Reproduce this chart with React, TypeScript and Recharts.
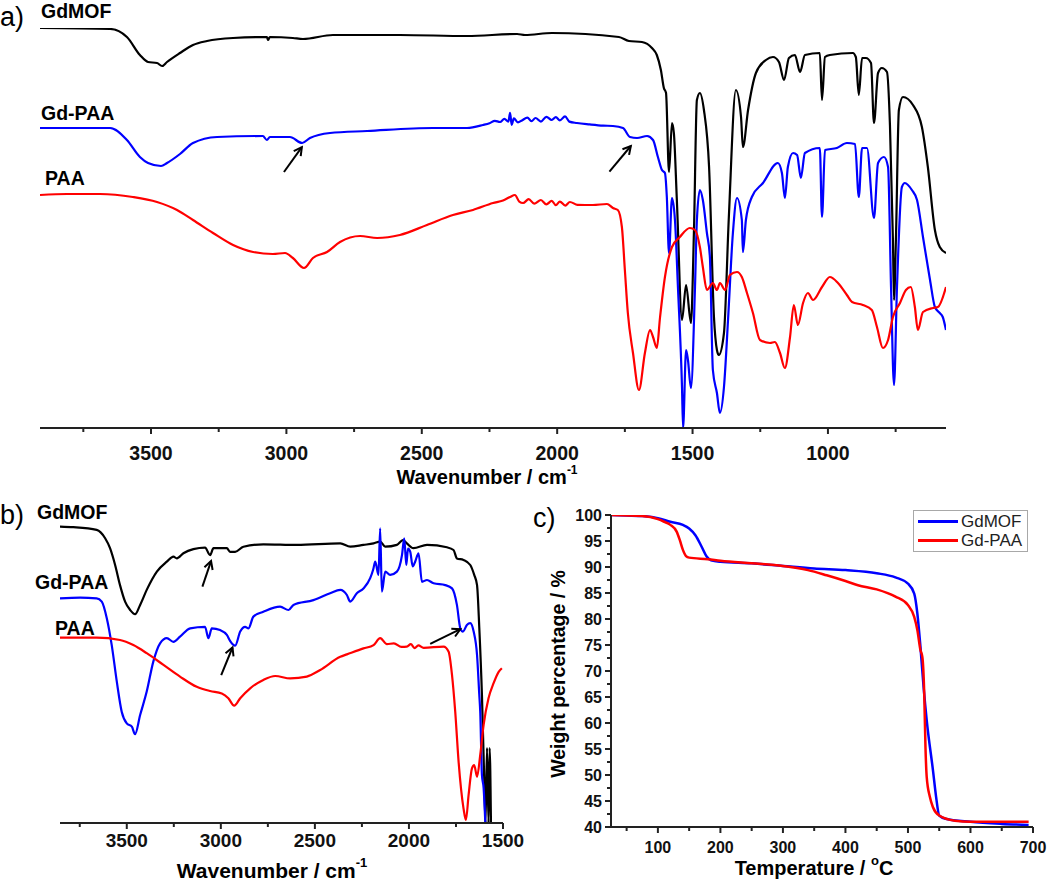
import React from "react";
import { LineChart, Line, XAxis, YAxis, ReferenceLine, Legend } from "recharts";

const FONT = '"Liberation Sans", Arial, Helvetica, sans-serif';
const AXIS = "#222";

// ---- panel a: full FTIR spectra [wavenumber cm-1, transmittance a.u.] ----
const irGdMofFull = [
  [3910, 100], [3651, 99.75], [3589, 97.75], [3541, 93.25], [3511, 91.5], [3478, 91.25], [3459, 90.5],
  [3441, 91.5], [3393, 93.75], [3345, 95.75], [3293, 96.75], [3197, 97.5], [3072, 97.75], [3068, 97],
  [3061, 97.75], [2976, 97.5], [2939, 97.25], [2828, 98.25], [2581, 98.25], [2333, 98], [2148, 98.5],
  [2119, 98.25], [2019, 98.75], [1772, 97.75], [1735, 96.75], [1687, 96.5], [1650, 95], [1632, 93.25],
  [1617, 89.5], [1606, 85], [1598, 83.75], [1587, 64], [1576, 76.25], [1569, 73.75], [1558, 57],
  [1539, 27], [1524, 35.75], [1506, 26.25], [1495, 48.75], [1484, 82], [1473, 83.75], [1458, 79.5],
  [1439, 65.25], [1421, 27.75], [1410, 19.5], [1403, 18.25], [1384, 23.75], [1366, 52.75], [1340, 84.5],
  [1321, 77.75], [1314, 70.25], [1295, 79.5], [1266, 88.75], [1229, 92], [1203, 92.75], [1181, 91.5],
  [1162, 87], [1144, 92.5], [1122, 93.25], [1103, 89], [1085, 93.25], [1030, 93.75], [1022, 82],
  [1011, 92.75], [993, 93.25], [908, 93.75], [897, 92.75], [886, 83.25], [874, 92.5], [860, 92.5],
  [841, 91.25], [830, 76.25], [815, 88.75], [801, 90], [782, 89], [771, 75.75], [760, 47], [756, 32],
  [749, 47], [738, 79.5], [723, 82.75], [686, 80.75], [653, 75.25], [631, 65.25], [605, 49.5],
  [587, 45.25], [564, 43.75],
];

const irGdPaaFull = [
  [3910, 75], [3651, 75], [3589, 72], [3541, 67.75], [3511, 66.25], [3463, 65.5], [3441, 66.25],
  [3393, 68.5], [3345, 71.25], [3256, 72.75], [3087, 73], [3072, 72], [3061, 72.75], [2987, 72.75],
  [2942, 71.25], [2913, 72.5], [2839, 73.75], [2702, 74.25], [2459, 75], [2333, 75], [2274, 75.75],
  [2250, 76.2], [2230, 76.8], [2211, 76.5], [2195, 77.3], [2180, 76.6], [2174, 78.8], [2168, 75.8],
  [2160, 77.4], [2145, 76.4], [2130, 76.9], [2110, 77.6], [2095, 76.7], [2080, 77.5], [2060, 76.6],
  [2040, 77.8], [2020, 77], [2005, 77.7], [1990, 76.9], [1971, 77.9], [1955, 76.6], [1927, 76.25],
  [1880, 75.9], [1830, 75.6], [1794, 75.5], [1757, 75], [1731, 72.75], [1705, 72.5], [1668, 73],
  [1646, 72], [1628, 67.75], [1613, 64.5], [1602, 63.75], [1595, 57.75], [1587, 43.75], [1576, 57.5],
  [1565, 52], [1554, 35.25], [1539, 10.25], [1535, 0], [1524, 19.5], [1517, 17], [1506, 10],
  [1491, 35.25], [1484, 52], [1473, 59.5], [1462, 57], [1447, 48.75], [1436, 42.75], [1425, 14.5],
  [1410, 8.75], [1399, 3.75], [1384, 10.25], [1369, 27], [1351, 48.75], [1336, 57.5], [1318, 52],
  [1314, 44], [1303, 52], [1281, 57.75], [1240, 61.25], [1185, 66.25], [1170, 63.75], [1159, 57.5],
  [1148, 65.25], [1129, 68.75], [1114, 68.25], [1100, 62.5], [1085, 68.75], [1030, 70], [1022, 52.75],
  [1011, 69.5], [967, 70], [930, 71.25], [900, 71], [886, 57.75], [874, 70], [856, 70], [830, 52.5],
  [815, 66.25], [793, 67.75], [778, 65.25], [767, 35.25], [756, 10.75], [745, 35.25], [727, 60.25],
  [716, 61.25], [690, 59.5], [671, 57], [649, 47.75], [623, 37], [605, 30.25], [587, 28.75],
  [576, 27.75], [564, 24.5],
];

const irPaaFull = [
  [3910, 58.25], [3810, 58.5], [3688, 58.5], [3567, 57.75], [3478, 56.5], [3404, 54.5], [3345, 52],
  [3271, 48.75], [3197, 45.75], [3123, 44], [3050, 43.5], [3005, 43.75], [2976, 42.5], [2935, 40],
  [2902, 42.5], [2850, 44], [2802, 46.5], [2728, 48], [2665, 47.5], [2581, 48.25], [2481, 50.75],
  [2385, 53.25], [2311, 54.5], [2237, 56.25], [2200, 56.9], [2174, 57.75], [2156, 58.25], [2140, 56.6],
  [2126, 56.25], [2105, 57.2], [2085, 56.1], [2060, 57], [2040, 55.9], [2020, 56.8], [2005, 55.7],
  [1990, 56.6], [1970, 55.6], [1953, 56.5], [1925, 55.8], [1868, 55.75], [1816, 56], [1794, 55],
  [1776, 54.5], [1761, 50.25], [1750, 39.5], [1739, 28.75], [1720, 18.75], [1698, 9.5], [1676, 18.75],
  [1657, 24.5], [1646, 22.75], [1632, 20], [1620, 27.75], [1602, 37.75], [1576, 45.25], [1547, 47.75],
  [1510, 50], [1491, 49.5], [1473, 45.25], [1462, 40.25], [1447, 34.5], [1425, 36.25], [1410, 34.5],
  [1399, 36.25], [1380, 34.5], [1362, 38.25], [1336, 39], [1318, 37.75], [1299, 33.75], [1277, 28.75],
  [1251, 22], [1214, 21.25], [1196, 21.5], [1177, 18.75], [1159, 15], [1140, 22.75], [1126, 30.75],
  [1111, 25.75], [1092, 31.25], [1074, 33.75], [1055, 32], [1022, 35.25], [993, 37.75], [963, 36.25],
  [930, 33.25], [911, 31.5], [871, 30.75], [838, 29.5], [819, 25.25], [797, 20], [778, 22],
  [760, 27.75], [734, 31.25], [712, 34.5], [694, 35.25], [679, 30.25], [668, 24.5], [649, 29],
  [612, 30], [594, 30.25], [564, 35.25],
];

// ---- panel b: zoom on 3855-1500 cm-1 ----
const irGdMofZoom = [
  [3855, 98.8], [3784, 98.6], [3660, 97.7], [3615, 94.9], [3589, 91.6], [3562, 86], [3536, 79.3],
  [3509, 73.8], [3482, 71], [3456, 69.6], [3429, 72.7], [3394, 77.7], [3340, 83.8], [3287, 87.1],
  [3252, 88.8], [3234, 88.2], [3199, 89.9], [3146, 91.3], [3084, 91.8], [3057, 89.3], [3039, 91.6],
  [2968, 91.6], [2951, 90.4], [2924, 90.4], [2880, 92.1], [2774, 92.9], [2596, 92.7], [2365, 93.2],
  [2312, 92.1], [2242, 92.7], [2188, 93.2], [2153, 93.8], [2126, 92.1], [2064, 92.7], [2032, 94.3],
  [2011, 93.2], [1976, 91.6], [1904, 92.7], [1798, 91.9], [1763, 91], [1745, 88.2], [1710, 87.7],
  [1674, 86], [1653, 82.7], [1638, 79.3], [1626, 65], [1612, 42.7], [1600, 15], [1593, 0], [1585, 25],
  [1577, 0], [1571, 25], [1564, 0],
];

const irGdPaaZoom = [
  [3855, 74.9], [3748, 75.1], [3660, 74.9], [3633, 73.8], [3606, 68.2], [3580, 59.3], [3553, 47.1],
  [3527, 37.1], [3500, 33.2], [3473, 32.1], [3456, 29.6], [3429, 36], [3394, 43.8], [3359, 53.8],
  [3323, 59.9], [3287, 61.6], [3252, 60.4], [3217, 62.1], [3163, 64.9], [3084, 65.4], [3066, 61.6],
  [3048, 64.9], [3004, 64.3], [2968, 62.7], [2951, 60.7], [2924, 59.1], [2897, 63.8], [2871, 65.4],
  [2853, 64.9], [2827, 68.8], [2774, 70.4], [2685, 72.1], [2640, 71], [2614, 72.7], [2508, 74.3],
  [2419, 76.6], [2365, 77.7], [2330, 76], [2312, 73.8], [2277, 76.6], [2242, 78.2], [2206, 81.6],
  [2190, 84.5], [2179, 87.1], [2162, 82.7], [2153, 98.2], [2144, 77.1], [2126, 83.8], [2100, 82.7],
  [2064, 83.8], [2037, 89.3], [2025, 94.9], [2014, 86], [2005, 91.5], [1993, 90.4], [1980, 85.5],
  [1967, 87.1], [1949, 89.9], [1931, 80.4], [1904, 81], [1869, 79.9], [1807, 79.3], [1771, 78.2],
  [1745, 72.7], [1727, 64.9], [1713, 63.8], [1692, 66], [1674, 66.6], [1656, 63.8], [1638, 56],
  [1626, 42.7], [1621, 37.1], [1612, 16], [1603, 11.6], [1594, 0],
];

const irPaaZoom = [
  [3855, 61.8], [3660, 61.8], [3536, 61], [3465, 59.3], [3394, 56.6], [3305, 52.7], [3217, 48.8],
  [3128, 45.4], [3057, 44], [2995, 43.2], [2960, 41.6], [2929, 39.1], [2897, 41.6], [2844, 44.9],
  [2774, 47.7], [2711, 49], [2631, 48.2], [2543, 48.8], [2472, 51], [2365, 55.4], [2330, 56.2],
  [2242, 58.2], [2188, 59.3], [2153, 61.6], [2117, 59.6], [2080, 59.9], [2040, 58.7], [2011, 58.8],
  [1990, 59.6], [1970, 58.3], [1950, 59.2], [1922, 58.4], [1816, 58.8], [1789, 57.1], [1771, 49.3],
  [1754, 37.1], [1736, 20.4], [1710, 4.9], [1697, 1], [1683, 9.3], [1665, 18.2], [1653, 19.3],
  [1638, 15.4], [1621, 22.7], [1603, 32.7], [1577, 41.6], [1550, 46.6], [1523, 50.4], [1506, 51.6],
];

// ---- panel c: TGA [temperature °C, weight %] ----
const tgaGdMof = [
  [25, 100], [50, 99.9], [75, 99.8], [100, 99.4], [120, 98.7], [140, 98.1], [150, 97.4], [160, 96.1],
  [170, 93.9], [178, 92], [185, 91.3], [200, 91], [250, 90.7], [300, 90.2], [350, 89.7], [400, 89.4],
  [450, 88.8], [480, 88], [500, 86.8], [510, 84.9], [515, 81.1], [520, 74.6], [525, 66.9], [530, 60.5],
  [540, 50.9], [545, 45.8], [550, 42.2], [560, 41.6], [600, 41], [650, 40.6], [693, 40.4],
];

const tgaGdPaa = [
  [25, 100], [75, 99.8], [100, 99.2], [110, 98.7], [120, 98.1], [130, 96.8], [135, 95.2], [140, 93.3],
  [145, 92.1], [150, 91.8], [180, 91.5], [200, 91.2], [250, 90.7], [300, 90.2], [340, 89.4], [370, 88.4],
  [400, 87.3], [420, 86.5], [450, 85.7], [480, 84.3], [500, 82.7], [510, 80.4], [515, 77.9], [520, 74],
  [523, 72.7], [526, 65.7], [528, 55.4], [530, 49.6], [535, 45.8], [540, 43.8], [550, 42.2], [575, 41.2],
  [600, 41], [693, 41],
];

// tick positions
const ticksFull = [750, 1000, 1250, 1500, 1750, 2000, 2250, 2500, 2750, 3000, 3250, 3500, 3750];
const ticksZoom = [1500, 1750, 2000, 2250, 2500, 2750, 3000, 3250, 3500, 3750];
const ticksTemp = [50, 100, 150, 200, 250, 300, 350, 400, 450, 500, 550, 600, 650, 700];
const ticksWeight = [40, 42.5, 45, 47.5, 50, 52.5, 55, 57.5, 60, 62.5, 65, 67.5, 70, 72.5, 75, 77.5,
  80, 82.5, 85, 87.5, 90, 92.5, 95, 97.5, 100];

// arrows [tail, head] in data units
const arrowsFull = [
  [[3009, 64], [2943, 70.2]],
  [[1807, 64.1], [1728, 70.5]],
];
const arrowsZoom = [
  [[3098, 78.8], [3052, 87.3]],
  [[2998, 49.3], [2938, 58.5]],
  [[1887, 59.7], [1727, 64.6]],
];

const toPts = (arr: number[][], kx: string, ky: string) => arr.map(([a, b]) => ({ [kx]: a, [ky]: b }));

const makeXTick = (fontSize: number, gap: number, step: number) => (props: any) => {
  const { x, y, payload } = props;
  const major = payload.value % step === 0;
  return (
    <g>
      <line x1={x} x2={x} y1={y} y2={y + (major ? 6 : 4)} stroke={AXIS} strokeWidth={2} />
      {major && (
        <text x={x} y={y + gap} textAnchor="middle" dominantBaseline="central" fontFamily={FONT}
          fontWeight="bold" fontSize={fontSize} fill="#111">
          {payload.value}
        </text>
      )}
    </g>
  );
};

const makeYTick = (fontSize: number, step: number) => (props: any) => {
  const { x, y, payload } = props;
  const major = payload.value % step === 0;
  return (
    <g>
      <line x1={x} x2={x - (major ? 6 : 4)} y1={y} y2={y} stroke={AXIS} strokeWidth={2} />
      {major && (
        <text x={x - 9} y={y} textAnchor="end" dominantBaseline="central" fontFamily={FONT}
          fontWeight="bold" fontSize={fontSize} fill="#111">
          {payload.value}
        </text>
      )}
    </g>
  );
};

const Arrow = (p: any) => {
  const { x1, y1, x2, y2 } = p;
  const ang = Math.atan2(y2 - y1, x2 - x1);
  const L = 9;
  const s = 0.5;
  const ax = x2 - L * Math.cos(ang - s);
  const ay = y2 - L * Math.sin(ang - s);
  const bx = x2 - L * Math.cos(ang + s);
  const by = y2 - L * Math.sin(ang + s);
  return (
    <g>
      <line x1={x1} y1={y1} x2={x2} y2={y2} stroke="#000" strokeWidth={2} />
      <polyline points={`${ax},${ay} ${x2},${y2} ${bx},${by}`} fill="none" stroke="#000" strokeWidth={2} />
    </g>
  );
};

const irSeries = (black: number[][], blue: number[][], red: number[][]) => [
  { key: "GdMOF", color: "#000000", data: toPts(black, "w", "t") },
  { key: "Gd-PAA", color: "#0000ff", data: toPts(blue, "w", "t") },
  { key: "PAA", color: "#ff0000", data: toPts(red, "w", "t") },
];

const tgaSeries = [
  { key: "GdMOF", color: "#0000ff", data: toPts(tgaGdMof, "T", "wt") },
  { key: "Gd-PAA", color: "#ff0000", data: toPts(tgaGdPaa, "T", "wt") },
];

const TgaLegend = () => (
  <div style={{ boxSizing: "border-box", width: 115, height: 42, border: "1.5px solid #a8a8a8",
    padding: "1px 0 0 4px", background: "#fff", fontFamily: FONT, whiteSpace: "nowrap" }}>
    {tgaSeries.map((s) => (
      <div key={s.key} style={{ display: "flex", alignItems: "center", height: 19 }}>
        <div style={{ width: 40, height: 3, background: s.color, marginRight: 3 }} />
        <span style={{ fontSize: 17, color: "#222", lineHeight: "19px" }}>{s.key}</span>
      </div>
    ))}
  </div>
);

const txt = (x: number, y: number, s: string, size = 19.5, bold = true, anchor = "start") => (
  <text x={x} y={y} fontFamily={FONT} fontSize={size} fontWeight={bold ? "bold" : "normal"}
    dominantBaseline="central" textAnchor={anchor} fill="#000">
    {s}
  </text>
);

export default function App() {
  const fullSeries = irSeries(irGdMofFull, irGdPaaFull, irPaaFull);
  const zoomSeries = irSeries(irGdMofZoom, irGdPaaZoom, irPaaZoom);
  return (
    <div style={{ position: "absolute", left: 0, top: 0, width: 1050, height: 881, background: "#fff", overflow: "hidden" }}>
      {/* panel a */}
      <div style={{ position: "absolute", left: 0, top: 0 }}>
        <LineChart width={1050} height={495} margin={{ top: 28, right: 104, left: 40, bottom: 17 }}>
          <XAxis dataKey="w" type="number" domain={[564, 3910]} reversed allowDataOverflow ticks={ticksFull}
            interval={0} tickSize={0} tickMargin={0} height={50}
            axisLine={{ stroke: AXIS, strokeWidth: 2 }} tickLine={false} tick={makeXTick(19.5, 25, 500)} />
          <YAxis hide type="number" domain={[0, 100]} allowDataOverflow />
          {fullSeries.map((s) => (
            <Line key={s.key} data={s.data} dataKey="t" stroke={s.color} strokeWidth={2.2} dot={false}
              type="monotone" isAnimationActive={false} />
          ))}
          {arrowsFull.map((a, i) => (
            <ReferenceLine key={i} segment={[{ x: a[0][0], y: a[0][1] }, { x: a[1][0], y: a[1][1] }]}
              shape={Arrow} />
          ))}
        </LineChart>
      </div>

      {/* panel b */}
      <div style={{ position: "absolute", left: 0, top: 495 }}>
        <LineChart width={540} height={386} margin={{ top: 28, right: 37, left: 60, bottom: 18 }}>
          <XAxis dataKey="w" type="number" domain={[1500, 3855]} reversed allowDataOverflow ticks={ticksZoom}
            interval={0} tickSize={0} tickMargin={0} height={40}
            axisLine={{ stroke: AXIS, strokeWidth: 2 }} tickLine={false} tick={makeXTick(19, 17.5, 500)} />
          <YAxis hide type="number" domain={[0, 100]} allowDataOverflow />
          {zoomSeries.map((s) => (
            <Line key={s.key} data={s.data} dataKey="t" stroke={s.color} strokeWidth={2.2} dot={false}
              type="monotone" isAnimationActive={false} />
          ))}
          {arrowsZoom.map((a, i) => (
            <ReferenceLine key={i} segment={[{ x: a[0][0], y: a[0][1] }, { x: a[1][0], y: a[1][1] }]}
              shape={Arrow} />
          ))}
        </LineChart>
      </div>

      {/* panel c */}
      <div style={{ position: "absolute", left: 540, top: 490 }}>
        <LineChart width={510} height={391} margin={{ top: 25, right: 17, left: 21, bottom: 14 }}>
          <XAxis dataKey="T" type="number" domain={[25, 700]} allowDataOverflow ticks={ticksTemp}
            interval={0} tickSize={0} tickMargin={0} height={40}
            axisLine={{ stroke: AXIS, strokeWidth: 2 }} tickLine={false} tick={makeXTick(16, 20, 100)} />
          <YAxis type="number" domain={[40, 100]} allowDataOverflow ticks={ticksWeight} interval={0}
            tickSize={0} tickMargin={0} width={50}
            axisLine={{ stroke: AXIS, strokeWidth: 2 }} tickLine={false} tick={makeYTick(16, 5)} />
          {tgaSeries.map((s) => (
            <Line key={s.key} data={s.data} dataKey="wt" name={s.key} stroke={s.color} strokeWidth={2.5}
              dot={false} type="monotone" isAnimationActive={false} />
          ))}
          <Legend layout="vertical" align="center" verticalAlign="middle" content={TgaLegend}
            wrapperStyle={{ position: "absolute", left: 373, top: 20, width: 115, height: 42 }} />
        </LineChart>
      </div>

      {/* text overlay: panel letters, trace names, axis titles */}
      <svg width={1050} height={881} style={{ position: "absolute", left: 0, top: 0, pointerEvents: "none" }}>
        {txt(0, 17, "a)", 27, false)}
        {txt(0, 515, "b)", 27, false)}
        {txt(533, 518, "c)", 27, false)}

        {txt(41, 11, "GdMOF")}
        {txt(41, 113, "Gd-PAA")}
        {txt(45, 178, "PAA")}

        {txt(37, 512, "GdMOF")}
        {txt(35, 582, "Gd-PAA")}
        {txt(55, 628, "PAA")}

        <text x={487} y={477} fontFamily={FONT} fontSize={20} fontWeight="bold" textAnchor="middle"
          dominantBaseline="central">
          Wavenumber / cm<tspan fontSize={12} dy={-7}>-1</tspan>
        </text>
        <text x={272} y={870} fontFamily={FONT} fontSize={21} fontWeight="bold" textAnchor="middle"
          dominantBaseline="central">
          Wavenumber / cm<tspan fontSize={13} dy={-8}>-1</tspan>
        </text>
        <text x={814} y={868} fontFamily={FONT} fontSize={20} fontWeight="bold" textAnchor="middle"
          dominantBaseline="central">
          Temperature / <tspan fontSize={13} dy={-8}>o</tspan><tspan dy={8}>C</tspan>
        </text>
        <text x={558} y={674} fontFamily={FONT} fontSize={19.5} fontWeight="bold" textAnchor="middle"
          dominantBaseline="central" transform="rotate(-90 558 674)">
          Weight percentage / %
        </text>
      </svg>
    </div>
  );
}
